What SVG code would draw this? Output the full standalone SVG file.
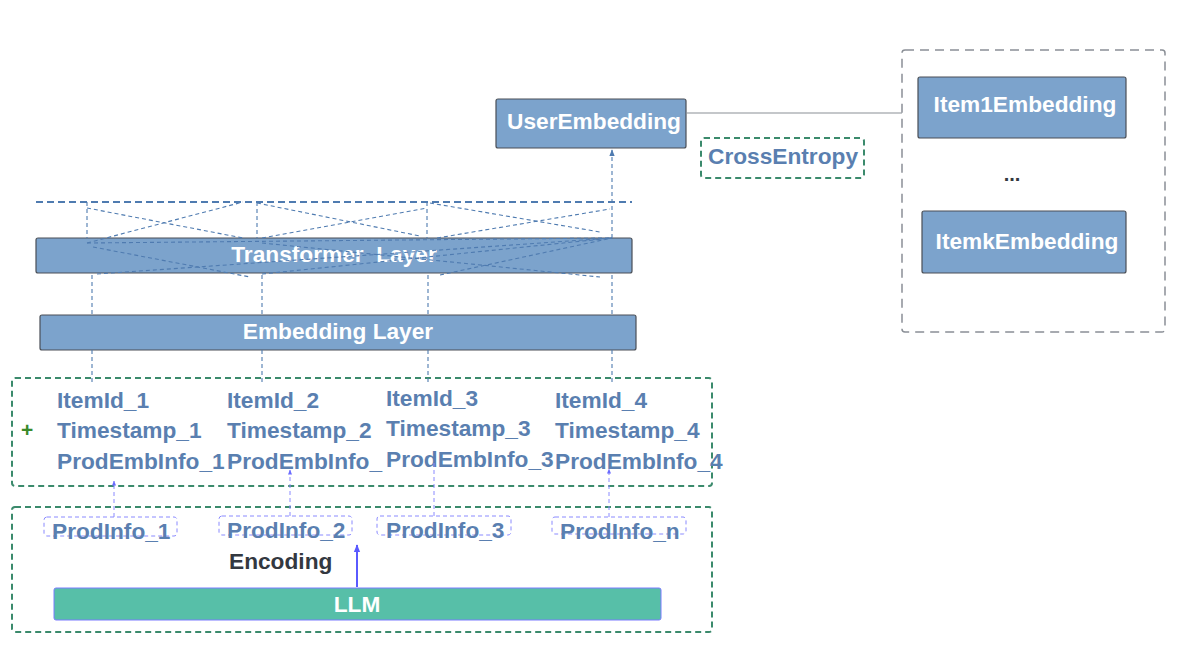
<svg xmlns="http://www.w3.org/2000/svg" width="1186" height="662" viewBox="0 0 1186 662">
<defs>
<style>
.bx{fill:#7ca3cc;stroke:#4a4f57;stroke-width:1.2}
.wt{fill:#ffffff;font-family:"Liberation Sans",Arial,sans-serif;font-weight:bold;font-size:22.7px;text-anchor:middle}
.bt{fill:#5a7fb0;font-family:"Liberation Sans",Arial,sans-serif;font-weight:bold;font-size:22.7px}
.gd{fill:none;stroke:#3b8a6c;stroke-width:2;stroke-dasharray:6,4}
.pd{fill:none;stroke:#8a8aff;stroke-width:1;stroke-dasharray:4,3}
.bd{fill:none;stroke:#4f7bb0;stroke-width:1.1;stroke-dasharray:4,3}
</style>
<marker id="ab" viewBox="0 0 10 10" refX="9" refY="5" markerWidth="6" markerHeight="6" orient="auto"><path d="M0,1 L10,5 L0,9 z" fill="#4f7bb0"/></marker>
<marker id="ap" viewBox="0 0 10 10" refX="9" refY="5" markerWidth="5" markerHeight="5" orient="auto"><path d="M0,1 L10,5 L0,9 z" fill="#6a6aff"/></marker>
<marker id="as" viewBox="0 0 10 10" refX="9" refY="5" markerWidth="4" markerHeight="4" orient="auto"><path d="M0,1 L10,5 L0,9 z" fill="#5a5aff"/></marker>
</defs>
<rect width="1186" height="662" fill="#ffffff"/>

<g id="user-embedding">
<rect class="bx" x="496" y="99" width="190" height="49" rx="2"/>
<text class="wt" x="594" y="129">UserEmbedding</text>
</g>

<g id="cross-entropy">
<rect class="gd" x="701" y="138" width="163" height="40" rx="3"/>
<text class="bt" x="708" y="164">CrossEntropy</text>
</g>

<g id="items-group">
<rect x="902" y="50" width="263" height="282" rx="3" fill="none" stroke="#8a8f96" stroke-width="1.5" stroke-dasharray="9,6"/>
</g>
<g id="item1">
<rect class="bx" x="918" y="77" width="208" height="61" rx="2"/>
<text class="wt" x="1025" y="112">Item1Embedding</text>
</g>
<g id="dots">
<text x="1012" y="181" fill="#333840" font-family="Liberation Sans,Arial,sans-serif" font-weight="bold" font-size="20" text-anchor="middle">...</text>
</g>
<g id="itemk">
<rect class="bx" x="922" y="211" width="204" height="62" rx="2"/>
<text class="wt" x="1027" y="249">ItemkEmbedding</text>
</g>

<g id="transformer-layer">
<rect class="bx" x="36" y="238" width="596" height="35" rx="2"/>
<text class="wt" x="334" y="262" xml:space="preserve">Transformer  Layer</text>
</g>

<g id="embedding-layer">
<rect class="bx" x="40" y="315" width="596" height="35" rx="2"/>
<text class="wt" x="338" y="339">Embedding Layer</text>
</g>

<g id="sequence-group">
<rect class="gd" x="12" y="378" width="700" height="108" rx="3"/>
<text x="21" y="437" fill="#3a8a2a" font-family="Liberation Sans,Arial,sans-serif" font-weight="bold" font-size="21">+</text>
<text class="bt" x="57" y="408">ItemId_1</text>
<text class="bt" x="57" y="438">Timestamp_1</text>
<text class="bt" x="57" y="469">ProdEmbInfo_1</text>
<text class="bt" x="227" y="408">ItemId_2</text>
<text class="bt" x="227" y="438">Timestamp_2</text>
<text class="bt" x="227" y="469">ProdEmbInfo_</text>
<text class="bt" x="386" y="406">ItemId_3</text>
<text class="bt" x="386" y="436">Timestamp_3</text>
<text class="bt" x="386" y="467">ProdEmbInfo_3</text>
<text class="bt" x="555" y="408">ItemId_4</text>
<text class="bt" x="555" y="438">Timestamp_4</text>
<text class="bt" x="555" y="469">ProdEmbInfo_4</text>
</g>

<g id="llm-group">
<rect class="gd" x="12" y="507" width="700" height="125" rx="3"/>
</g>
<g id="prodinfo-1">
<rect class="pd" x="44" y="517" width="133" height="19" rx="3"/>
<text class="bt" x="52" y="539">ProdInfo_1</text>
</g>
<g id="prodinfo-2">
<rect class="pd" x="219" y="516" width="133" height="19" rx="3"/>
<text class="bt" x="227" y="538">ProdInfo_2</text>
</g>
<g id="prodinfo-3">
<rect class="pd" x="377" y="516" width="134" height="19" rx="3"/>
<text class="bt" x="386" y="538">ProdInfo_3</text>
</g>
<g id="prodinfo-n">
<rect class="pd" x="552" y="517" width="134" height="17" rx="3"/>
<text class="bt" x="560" y="539">ProdInfo_n</text>
</g>
<g id="encoding">
<text x="229" y="569" fill="#333840" font-family="Liberation Sans,Arial,sans-serif" font-weight="bold" font-size="22.7">Encoding</text>
</g>
<g id="llm">
<rect x="54" y="588" width="607" height="32" rx="2" fill="#57bfa8" stroke="#7a7aff" stroke-width="1"/>
<text class="wt" x="357" y="612">LLM</text>
</g>

<g id="connectors">
<line x1="686" y1="113" x2="902" y2="113" stroke="#8a8f96" stroke-width="1.2"/>
<line x1="36" y1="202" x2="632" y2="202" stroke="#4f7bb0" stroke-width="1.8" stroke-dasharray="7,4"/>
<g class="bd">
<line x1="87" y1="202" x2="87" y2="238"/>
<line x1="257" y1="202" x2="257" y2="238"/>
<line x1="427" y1="202" x2="427" y2="238"/>
<line x1="87" y1="208" x2="243" y2="238"/>
<line x1="87" y1="243" x2="243" y2="202"/>
<line x1="257" y1="203" x2="420" y2="236"/>
<line x1="262" y1="238" x2="427" y2="208"/>
<line x1="430" y1="203" x2="600" y2="232"/>
<line x1="437" y1="238" x2="610" y2="209"/>
<line x1="93" y1="247" x2="250" y2="277"/>
<line x1="97" y1="274" x2="612" y2="238"/>
<line x1="262" y1="274" x2="612" y2="238"/>
<line x1="440" y1="275" x2="612" y2="238"/>
<line x1="87" y1="243" x2="612" y2="238"/>
<line x1="262" y1="243" x2="600" y2="277"/>
<line x1="92" y1="275" x2="92" y2="315"/>
<line x1="262" y1="275" x2="262" y2="315"/>
<line x1="428" y1="275" x2="428" y2="315"/>
<line x1="612" y1="275" x2="612" y2="315"/>
<line x1="92" y1="350" x2="92" y2="383"/>
<line x1="262" y1="350" x2="262" y2="383"/>
<line x1="428" y1="350" x2="428" y2="383"/>
<line x1="612" y1="350" x2="612" y2="383"/>
<line x1="612" y1="238" x2="612" y2="150" marker-end="url(#ab)"/>
</g>
<g class="pd">
<line x1="114" y1="517" x2="114" y2="481" marker-end="url(#ap)"/>
<line x1="290" y1="516" x2="290" y2="470" marker-end="url(#ap)"/>
<line x1="434" y1="516" x2="434" y2="463"/>
<line x1="609" y1="517" x2="609" y2="469" marker-end="url(#ap)"/>
</g>
<line x1="357" y1="587" x2="357" y2="545" stroke="#5a5aff" stroke-width="2" marker-end="url(#as)"/>
</g>
</svg>
